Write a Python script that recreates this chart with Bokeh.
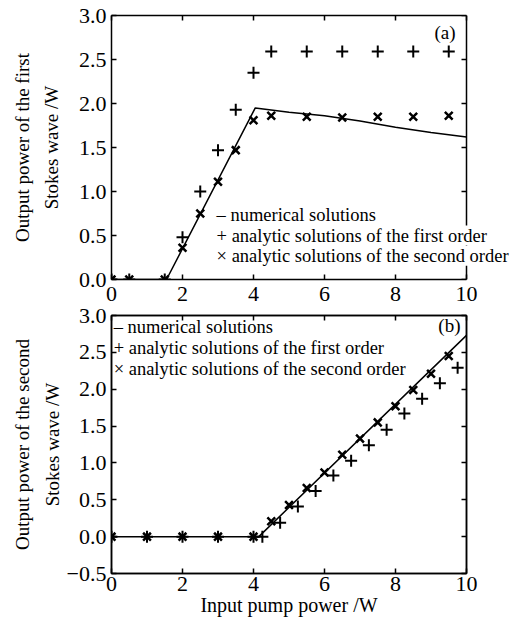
from bokeh.plotting import figure
from bokeh.layouts import column
from bokeh.models import (Range1d, FixedTicker, LinearAxis, Label, CustomJSTickFormatter,
                          CustomLabelingPolicy)
from bokeh.embed import file_html
from bokeh.resources import INLINE

# ---------------- data ----------------
# panel (a): first Stokes wave
num1_x = [0, 1.55, 4.05, 5, 6, 7, 8, 9, 10]
num1_y = [0, 0, 1.95, 1.90, 1.86, 1.80, 1.73, 1.67, 1.62]
p1_plus_x = [0, 0.5, 1.5, 2, 2.5, 3, 3.5, 4, 4.5, 5.5, 6.5, 7.5, 8.5, 9.5]
p1_plus_y = [0, 0, 0, 0.48, 1.0, 1.47, 1.93, 2.35, 2.59, 2.59, 2.59, 2.59, 2.59, 2.59]
p1_x_x = [0, 0.5, 1.5, 2, 2.5, 3, 3.5, 4, 4.5, 5.5, 6.5, 7.5, 8.5, 9.5]
p1_x_y = [0, 0, 0, 0.36, 0.75, 1.11, 1.47, 1.81, 1.86, 1.85, 1.84, 1.85, 1.85, 1.86]

# panel (b): second Stokes wave
num2_x = [0, 4.15, 10]
num2_y = [0, 0, 2.73]
p2_plus_x = [0, 1, 2, 3, 4, 4.25, 4.75, 5.25, 5.75, 6.25, 6.75, 7.25, 7.75, 8.25, 8.75, 9.25, 9.75]
p2_plus_y = [0, 0, 0, 0, 0, 0, 0.19, 0.41, 0.62, 0.83, 1.03, 1.24, 1.45, 1.67, 1.87, 2.08, 2.29]
p2_x_x = [0, 1, 2, 3, 4, 4.5, 5, 5.5, 6, 6.5, 7, 7.5, 8, 8.5, 9, 9.5]
p2_x_y = [0, 0, 0, 0, 0, 0.21, 0.43, 0.66, 0.87, 1.11, 1.33, 1.55, 1.77, 1.99, 2.21, 2.45]

x_ticks = [0, 2, 4, 6, 8, 10]
y1_ticks = [0, 0.5, 1.0, 1.5, 2.0, 2.5, 3.0]
y2_ticks = [-0.5, 0, 0.5, 1.0, 1.5, 2.0, 2.5, 3.0]

legend_texts = ["\u2013 numerical solutions",
                "+ analytic solutions of the first order",
                "\u00d7 analytic solutions of the second order"]
legend1_y = [0.73, 0.50, 0.27]
legend2_y = [2.84, 2.56, 2.27]

ylabel1 = "Output power of the first\nStokes wave /W"
ylabel2 = "Output power of the second\nStokes wave /W"
xlabel = "Input pump power /W"

FONT = "Liberation Serif"
TICK_FS = "22px"
LABEL_FS = "19px"
XLABEL_FS = "20px"
LEG_FS = "18.5px"
PX_PER_X = 35.5   # frame pixels per x unit (355 px for 0..10)
OVERLAP = 10      # panel (b)'s (transparent) top border slides under panel (a)'s tick labels

fmt = CustomJSTickFormatter(code="return (tick < 0 ? '\u2212' : '') + Math.abs(tick).toFixed(1);")
no_labels = CustomLabelingPolicy(code="return new Set()")


def style_axis(ax, ticks, show_labels=True):
    ax.ticker = FixedTicker(ticks=ticks)
    ax.major_tick_in = 5
    ax.major_tick_out = 0
    ax.minor_tick_line_color = None
    ax.axis_line_color = "black"
    ax.axis_line_width = 1.5
    ax.major_tick_line_color = "black"
    ax.major_tick_line_width = 1.5
    ax.major_label_text_font = FONT
    ax.major_label_text_color = "black"
    if show_labels:
        ax.major_label_text_font_size = TICK_FS
    else:
        ax.major_label_text_font_size = "1px"
        ax.major_label_standoff = 0
        ax.major_label_policy = no_labels
    ax.axis_label_text_font = FONT
    ax.axis_label_text_font_size = LABEL_FS
    ax.axis_label_text_font_style = "normal"
    ax.axis_label_text_color = "black"
    ax.axis_label_text_line_height = 1.4


def base_fig(y_rng, top_border, frame_h, bottom_border, frame_w, wide):
    p = figure(frame_width=frame_w, frame_height=frame_h,
               x_range=Range1d(0, frame_w / PX_PER_X), y_range=Range1d(*y_rng),
               output_backend="svg", toolbar_location=None,
               min_border_left=111, min_border_right=0 if wide else 48,
               min_border_top=top_border, min_border_bottom=bottom_border)
    p.grid.visible = False
    p.outline_line_color = None if wide else "black"
    p.outline_line_width = 1.5
    p.background_fill_color = "white"
    p.border_fill_color = "white"
    return p


# ---------- panel (a) ----------
# the legend runs past the right frame edge, so the frame is widened and the
# right border of the box is an axis fixed at x = 10
p1 = base_fig((0, 3), 15, 264, 32, 400, True)
xa = p1.xaxis[0]
style_axis(xa, x_ticks)
xa.bounds = (0, 10)
xa.major_label_standoff = 7
ya = p1.yaxis[0]
style_axis(ya, y1_ticks)
ya.formatter = fmt
ya.major_label_standoff = 5
ya.axis_label = ylabel1
ya.axis_label_standoff = 14
top1 = LinearAxis(bounds=(0, 10))
style_axis(top1, x_ticks, show_labels=False)
p1.add_layout(top1, "above")
right1 = LinearAxis(fixed_location=10)
style_axis(right1, y1_ticks, show_labels=False)
p1.add_layout(right1, "right")

p1.line(num1_x, num1_y, line_color="black", line_width=1.5)
p1.scatter(p1_plus_x, p1_plus_y, marker="cross", size=12, line_color="black", line_width=2)
p1.scatter(p1_x_x, p1_x_y, marker="x", size=11, line_color="black", line_width=2.5)
for t, yy in zip(legend_texts, legend1_y):
    p1.add_layout(Label(x=2.96, y=yy, text=t, text_font=FONT, text_font_size=LEG_FS,
                        text_baseline="middle", text_color="black",
                        background_fill_color="white"))
p1.add_layout(Label(x=9.69, y=2.81, text="(a)", text_font=FONT, text_font_size="19px",
                    text_align="right", text_baseline="middle", text_color="black"))

# ---------- panel (b) ----------
p2 = base_fig((-0.5, 3), 4 + OVERLAP, 258, 4, 355, False)
p2.border_fill_color = None
xb = p2.xaxis[0]
style_axis(xb, x_ticks)
xb.major_label_standoff = 3
xb.axis_label = xlabel
xb.axis_label_standoff = 0
xb.axis_label_text_font_size = XLABEL_FS
yb = p2.yaxis[0]
style_axis(yb, y2_ticks)
yb.formatter = fmt
yb.major_label_standoff = 5
yb.axis_label = ylabel2
yb.axis_label_standoff = 1
top2 = LinearAxis()
style_axis(top2, x_ticks, show_labels=False)
p2.add_layout(top2, "above")
right2 = LinearAxis()
style_axis(right2, y2_ticks, show_labels=False)
p2.add_layout(right2, "right")

p2.line(num2_x, num2_y, line_color="black", line_width=1.5)
p2.scatter(p2_plus_x, p2_plus_y, marker="cross", size=12, line_color="black", line_width=2)
p2.scatter(p2_x_x, p2_x_y, marker="x", size=11, line_color="black", line_width=2.5)
for t, yy in zip(legend_texts, legend2_y):
    p2.add_layout(Label(x=0.06, y=yy, text=t, text_font=FONT, text_font_size=LEG_FS,
                        text_baseline="middle", text_color="black"))
p2.add_layout(Label(x=9.83, y=2.86, text="(b)", text_font=FONT, text_font_size="19px",
                    text_align="right", text_baseline="middle", text_color="black"))

try:
    p2.margin = (-OVERLAP, 0, 0, 0)
except Exception:
    p2.styles = {"margin-top": "-%dpx" % OVERLAP}

layout = column(p1, p2, spacing=0)
open("out.html", "w").write(file_html(layout, INLINE))
